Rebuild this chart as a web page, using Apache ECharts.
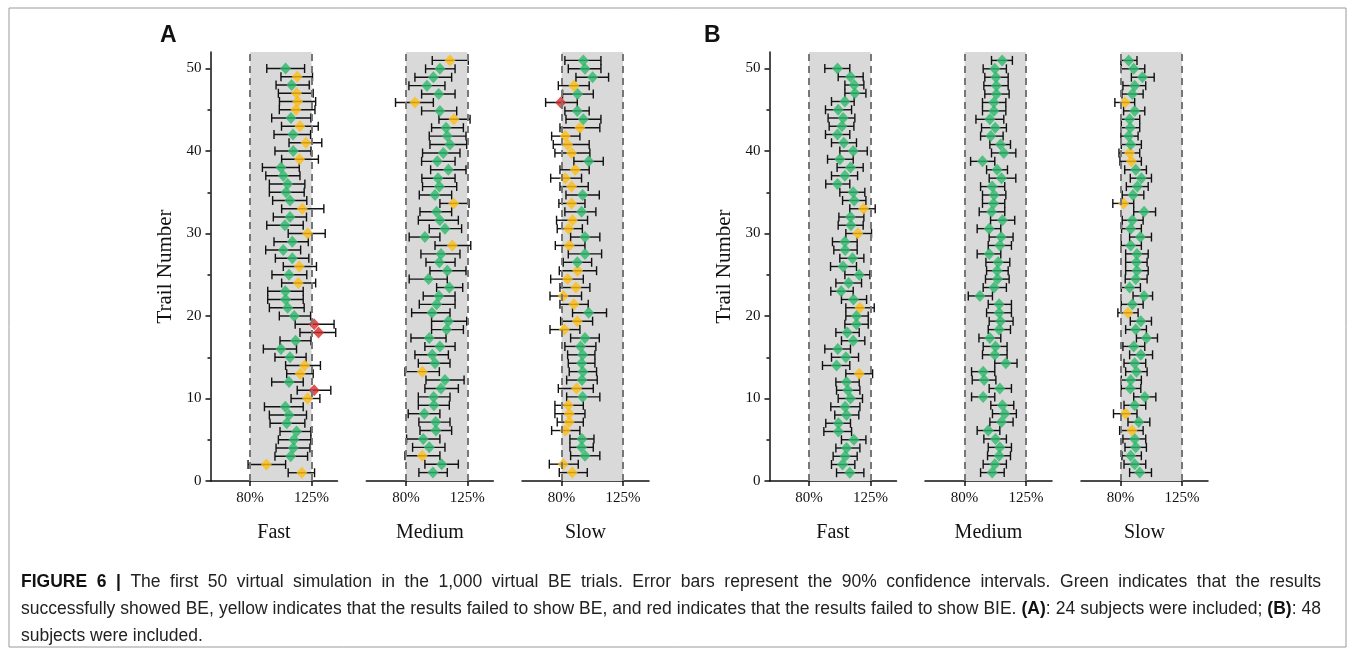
<!DOCTYPE html>
<html>
<head>
<meta charset="utf-8">
<script src="https://cdn.jsdelivr.net/npm/echarts/dist/echarts.min.js"></script>
<style>
  html, body { margin: 0; padding: 0; background: #fff; }
  #chart { width: 1355px; height: 654px; }
</style>
</head>
<body>
<div id="chart"></div>
<script>
// trial numbers (y axis categories)
const trials = Array.from({ length: 50 }, (_, i) => i + 1)

// A: 24 subjects -- point estimate, 90% CI low, 90% CI high (%), trial 1..50
const aFastEst = [117.9, 91.9, 109.7, 111.6, 112.1, 114.0, 106.8, 108.5, 105.8, 122.1, 126.9, 108.5, 116.7, 119.9, 109.2, 102.6, 113.3, 130.1, 126.9, 112.3, 107.5, 106.0, 105.8, 115.3, 108.5, 116.0, 110.9, 104.3, 110.9, 122.1, 105.5, 109.2, 118.2, 109.2, 106.3, 107.5, 104.3, 102.6, 116.2, 111.6, 120.9, 111.4, 116.5, 109.9, 113.6, 114.8, 114.0, 110.4, 114.5, 106.0]
const aFastLow = [107.9, 78.5, 98.2, 99.0, 100.7, 101.9, 94.6, 94.1, 90.5, 110.0, 114.5, 95.8, 106.8, 106.0, 98.2, 89.7, 101.9, 116.5, 113.0, 101.4, 94.1, 92.9, 92.9, 103.1, 96.0, 104.3, 98.5, 91.4, 97.5, 107.9, 92.2, 97.0, 103.1, 96.5, 94.1, 94.1, 91.5, 89.0, 103.1, 98.2, 108.5, 97.5, 103.0, 95.8, 101.4, 101.5, 100.7, 99.0, 102.6, 92.2]
const aFastHigh = [127.2, 106.0, 122.1, 123.8, 124.5, 124.5, 120.1, 121.3, 118.9, 131.1, 139.1, 118.9, 126.2, 131.5, 121.0, 114.0, 124.6, 142.7, 141.5, 124.3, 119.6, 118.9, 118.9, 128.0, 121.5, 128.6, 123.0, 117.0, 122.6, 135.0, 118.9, 121.3, 134.0, 121.5, 119.6, 120.1, 116.5, 116.0, 130.0, 124.6, 132.5, 124.3, 129.9, 124.5, 127.5, 128.0, 126.2, 123.3, 125.7, 119.9]

const aMedEst = [99.8, 106.2, 92.0, 97.1, 92.7, 102.0, 101.8, 93.5, 100.5, 100.3, 105.7, 108.6, 92.0, 101.3, 99.3, 104.9, 97.1, 109.8, 111.1, 99.1, 102.5, 104.2, 111.8, 96.6, 110.3, 104.5, 105.7, 114.0, 93.9, 108.6, 104.9, 102.5, 115.0, 101.3, 104.5, 103.5, 111.1, 103.0, 107.4, 112.3, 110.3, 109.4, 115.2, 104.9, 86.6, 104.0, 95.4, 100.1, 104.9, 112.3]
const aMedLow = [89.5, 93.9, 79.3, 84.9, 80.5, 90.3, 89.5, 81.7, 89.1, 89.1, 93.9, 94.7, 79.3, 89.1, 86.6, 93.9, 83.7, 98.8, 98.8, 84.2, 89.8, 92.7, 102.5, 82.4, 97.6, 94.7, 91.0, 101.3, 82.4, 97.1, 89.1, 90.3, 104.9, 89.8, 92.2, 91.7, 98.1, 91.5, 92.2, 97.6, 97.1, 98.8, 104.2, 91.5, 72.4, 91.5, 82.2, 86.6, 94.4, 99.3]
const aMedHigh = [110.3, 118.4, 104.9, 108.6, 104.9, 113.5, 112.3, 104.9, 111.8, 112.3, 118.4, 122.6, 104.5, 112.3, 111.1, 116.0, 109.4, 122.1, 124.5, 112.3, 116.0, 116.0, 121.6, 110.3, 124.0, 116.0, 119.6, 127.5, 104.9, 120.8, 118.4, 113.5, 126.2, 113.5, 117.2, 116.0, 124.0, 116.0, 119.6, 124.5, 124.0, 122.1, 127.0, 117.2, 100.1, 116.0, 108.6, 113.5, 116.0, 125.7]

const aSlowEst = [87.8, 81.2, 97.1, 94.6, 94.9, 82.7, 85.6, 85.6, 84.9, 95.4, 91.0, 94.9, 95.6, 94.6, 95.4, 93.9, 97.1, 82.0, 91.5, 99.8, 89.0, 81.2, 90.5, 84.4, 91.7, 91.5, 97.1, 85.6, 97.1, 85.1, 88.0, 94.6, 87.3, 95.4, 87.3, 82.7, 90.0, 99.8, 87.3, 84.4, 82.7, 93.4, 95.9, 91.5, 79.3, 91.7, 89.0, 102.7, 97.1, 95.9]
const aSlowLow = [78.3, 71.0, 86.6, 86.1, 86.1, 72.7, 76.8, 75.1, 75.1, 83.7, 77.6, 83.7, 85.6, 84.9, 84.4, 82.4, 86.6, 71.5, 79.3, 88.0, 78.8, 71.5, 78.8, 72.0, 78.3, 81.2, 84.9, 75.4, 86.6, 76.8, 76.3, 82.4, 78.0, 83.2, 78.8, 72.0, 78.8, 89.0, 75.1, 73.9, 72.7, 78.8, 83.2, 82.4, 68.3, 80.7, 77.6, 90.5, 84.9, 82.4]
const aSlowHigh = [98.8, 92.2, 108.0, 103.2, 103.7, 93.4, 95.9, 97.1, 95.9, 108.0, 103.2, 106.1, 105.6, 104.4, 104.4, 105.1, 107.6, 93.4, 102.7, 112.9, 99.5, 94.6, 100.7, 95.9, 105.6, 102.0, 109.3, 97.1, 108.0, 95.2, 99.0, 105.1, 97.1, 107.6, 99.5, 94.6, 100.2, 110.5, 100.7, 100.2, 93.4, 108.0, 108.8, 100.2, 91.5, 103.2, 100.2, 114.4, 108.8, 108.8]

// B: 48 subjects
const bFastEst = [109.8, 104.5, 106.4, 107.4, 112.8, 101.5, 101.5, 107.4, 106.4, 110.3, 108.4, 107.4, 116.7, 100.1, 106.9, 101.0, 112.3, 107.9, 114.7, 114.7, 117.2, 112.5, 103.5, 108.9, 116.7, 104.9, 111.8, 106.4, 106.2, 115.7, 110.6, 110.3, 119.9, 113.0, 112.3, 100.8, 106.2, 110.3, 102.5, 112.3, 105.4, 100.8, 104.0, 104.9, 101.3, 106.2, 113.5, 113.0, 110.3, 100.8]
const bFastLow = [100.1, 96.4, 97.6, 99.6, 103.7, 90.8, 92.2, 98.8, 95.9, 101.3, 100.1, 99.6, 106.9, 89.8, 96.4, 91.5, 103.7, 99.6, 106.2, 106.9, 106.9, 103.7, 95.9, 99.6, 106.2, 95.7, 102.5, 98.1, 97.1, 106.9, 101.3, 101.8, 109.8, 104.5, 102.5, 92.2, 96.4, 100.5, 93.5, 102.5, 96.4, 92.0, 94.7, 93.9, 92.0, 96.4, 106.2, 106.2, 101.3, 91.5]
const bFastHigh = [120.1, 113.5, 115.2, 117.2, 121.6, 111.1, 110.3, 116.4, 117.2, 119.1, 117.2, 116.7, 126.5, 109.8, 116.2, 110.3, 120.8, 116.7, 123.3, 123.3, 127.7, 122.1, 112.3, 118.4, 124.5, 114.7, 120.1, 115.2, 115.2, 125.7, 119.6, 120.1, 128.4, 121.6, 120.8, 109.8, 115.5, 119.6, 112.3, 122.6, 114.7, 109.8, 112.8, 113.5, 111.1, 113.0, 121.6, 120.1, 119.6, 109.8]

const bMedEst = [100.2, 102.1, 105.3, 105.8, 102.6, 97.3, 107.0, 109.4, 107.7, 93.6, 105.8, 94.3, 93.6, 110.2, 102.1, 102.6, 98.5, 105.3, 106.3, 105.3, 105.3, 91.2, 101.6, 104.1, 103.8, 104.6, 98.0, 105.8, 106.8, 98.0, 107.7, 99.7, 101.2, 101.6, 100.2, 107.0, 103.8, 93.1, 108.7, 106.3, 99.2, 102.4, 98.5, 101.4, 101.4, 103.3, 103.3, 102.9, 102.1, 107.5]
const bMedLow = [91.7, 93.6, 96.8, 97.3, 94.1, 89.2, 98.5, 100.4, 99.2, 85.1, 98.0, 85.6, 85.1, 102.1, 93.1, 93.6, 90.5, 97.3, 98.0, 96.1, 97.3, 82.7, 93.6, 95.3, 96.1, 95.6, 89.2, 97.3, 98.0, 89.2, 99.0, 90.7, 93.1, 93.1, 91.7, 98.0, 96.1, 84.4, 99.7, 98.5, 91.7, 92.4, 88.3, 93.1, 93.1, 94.8, 94.1, 94.8, 93.6, 99.7]
const bMedHigh = [109.0, 110.6, 113.6, 114.3, 110.6, 105.8, 115.5, 117.9, 116.0, 102.1, 114.3, 102.9, 102.1, 118.4, 111.1, 111.1, 106.5, 113.6, 115.5, 114.3, 114.3, 100.4, 110.6, 112.6, 111.9, 113.1, 106.5, 114.3, 115.5, 106.5, 116.7, 109.4, 109.4, 110.2, 109.4, 117.5, 111.4, 102.1, 117.5, 113.6, 108.2, 110.6, 108.7, 110.2, 110.2, 112.6, 111.9, 111.9, 110.6, 115.0]

const bSlowEst = [94.0, 90.3, 87.4, 91.1, 90.3, 88.4, 93.3, 83.7, 90.3, 97.7, 87.1, 87.4, 91.6, 90.3, 94.8, 89.6, 98.9, 91.1, 94.8, 85.4, 88.6, 97.2, 86.6, 91.1, 92.0, 91.6, 92.0, 87.4, 94.5, 87.4, 88.6, 97.2, 82.2, 89.1, 92.3, 95.2, 91.1, 87.9, 86.6, 87.4, 85.9, 87.1, 86.6, 90.3, 83.2, 88.6, 90.3, 96.0, 89.6, 85.9]
const bSlowLow = [86.6, 82.5, 81.0, 83.2, 81.7, 79.3, 85.4, 74.8, 82.5, 89.6, 80.5, 80.5, 83.7, 82.5, 86.6, 81.7, 91.6, 83.7, 87.1, 78.0, 80.5, 89.1, 80.5, 83.4, 83.7, 83.7, 83.7, 80.5, 86.6, 80.7, 81.2, 89.6, 74.3, 81.2, 84.2, 87.1, 83.0, 79.5, 78.8, 80.5, 80.2, 80.5, 80.5, 82.2, 75.8, 81.0, 81.7, 87.9, 80.5, 80.2]
const bSlowHigh = [102.6, 98.4, 95.2, 98.9, 98.4, 96.5, 101.4, 92.0, 98.4, 105.8, 94.8, 95.2, 99.4, 98.4, 103.4, 97.7, 107.0, 98.9, 102.6, 92.8, 96.5, 103.4, 94.5, 99.4, 100.2, 99.4, 100.2, 95.2, 102.6, 95.2, 96.5, 105.6, 89.6, 97.0, 100.2, 102.6, 98.9, 95.2, 94.0, 95.2, 92.8, 94.0, 94.0, 97.7, 90.3, 96.5, 98.4, 104.6, 97.7, 92.0]

// BE limits and axis ticks
const beLimits = [80, 125]
const xTickLabels = ['80%', '125%']
const yTickValues = [0, 10, 20, 30, 40, 50]
const yMinorTickValues = [5, 15, 25, 35, 45]

// caption, {b|...} is bold; first two lines are justified
const captionLines = [
  '{b|FIGURE} {b|6} {b|\u007c} The first 50 virtual simulation in the 1,000 virtual BE trials. Error bars represent the 90% confidence intervals. Green indicates that the results',
  'successfully showed BE, yellow indicates that the results failed to show BE, and red indicates that the results failed to show BIE. {b|(A)}: 24 subjects were included; {b|(B)}: 48',
  'subjects were included.',
]

const GREEN = '#2db86b'
const YELLOW = '#fdbd10'
const RED = '#d42c2a'
const SERIF = '"Liberation Serif", "Times New Roman", serif'
const SANS = '"Liberation Sans", Arial, sans-serif'
const CAPTION_SIZE = 17.5

// green: CI inside 80-125; red: point estimate outside; yellow: CI crosses a limit
function statusColor (est, low, high) {
  if (est < beLimits[0] || est > beLimits[1]) return RED
  if (low < beLimits[0] || high > beLimits[1]) return YELLOW
  return GREEN
}

const panels = [
  { name: 'Fast', left: 210.5, yMax: 52, axis: true, est: aFastEst, low: aFastLow, high: aFastHigh },
  { name: 'Medium', left: 366.3, yMax: 51, axis: false, est: aMedEst, low: aMedLow, high: aMedHigh },
  { name: 'Slow', left: 522, yMax: 51, axis: false, est: aSlowEst, low: aSlowLow, high: aSlowHigh },
  { name: 'Fast', left: 769.5, yMax: 52, axis: true, est: bFastEst, low: bFastLow, high: bFastHigh },
  { name: 'Medium', left: 925, yMax: 51, axis: false, est: bMedEst, low: bMedLow, high: bMedHigh },
  { name: 'Slow', left: 1081, yMax: 51, axis: false, est: bSlowEst, low: bSlowLow, high: bSlowHigh },
]

const barStyle = { stroke: '#111', lineWidth: 1.4 }

function renderBar (params, api) {
  const y = api.value(0)
  const lo = api.coord([api.value(1), y])
  const hi = api.coord([api.value(2), y])
  const h = 4.5

  return {
    type: 'group',
    children: [
      { type: 'line', shape: { x1: lo[0], y1: lo[1], x2: hi[0], y2: hi[1] }, style: barStyle },
      { type: 'line', shape: { x1: lo[0], y1: lo[1] - h, x2: lo[0], y2: lo[1] + h }, style: barStyle },
      { type: 'line', shape: { x1: hi[0], y1: hi[1] - h, x2: hi[0], y2: hi[1] + h }, style: barStyle },
    ],
  }
}

// lay caption words out so that a line fills the given width
const measureCtx = document.createElement('canvas').getContext('2d')
function wordWidth (word) {
  let w = 0
  word.replace(/\{b\|([^}]*)\}|([^{]+)/g, (m, bold, plain) => {
    measureCtx.font = (bold !== undefined ? 'bold ' : '') + CAPTION_SIZE + 'px ' + SANS
    w += measureCtx.measureText(bold !== undefined ? bold : plain).width
    return m
  })
  return w
}

function captionGraphics (x, y, width, lineHeight) {
  const out = []
  captionLines.forEach((line, li) => {
    const words = line.split(' ')
    const widths = words.map(wordWidth)
    const total = widths.reduce((a, b) => a + b, 0)
    const justify = li < captionLines.length - 1
    const gap = justify ? (width - total) / (words.length - 1) : wordWidth(' ') || CAPTION_SIZE * 0.28
    let cx = x
    words.forEach((word, wi) => {
      out.push({
        type: 'text',
        x: cx,
        y: y + li * lineHeight,
        style: {
          text: word,
          fontSize: CAPTION_SIZE,
          fontFamily: SANS,
          fill: '#222',
          textVerticalAlign: 'middle',
          rich: { b: { fontWeight: 'bold', fontSize: CAPTION_SIZE, fontFamily: SANS, fill: '#111' } },
        },
      })
      cx += widths[wi] + gap
    })
  })
  return out
}

const grid = []
const xAxis = []
const yAxis = []
const series = []

panels.forEach((p, i) => {
  grid.push({ left: p.left, top: 52, width: 127, height: 429 })
  xAxis.push({
    gridIndex: i,
    type: 'value',
    min: 51,
    max: 144,
    name: p.name,
    nameLocation: 'middle',
    nameGap: 42,
    nameTextStyle: { fontFamily: SERIF, fontSize: 20, color: '#111' },
    axisLine: { lineStyle: { color: '#111', width: 1.5 } },
    axisTick: { customValues: beLimits, length: 5, lineStyle: { color: '#111', width: 1.5 } },
    axisLabel: {
      customValues: beLimits,
      formatter: v => xTickLabels[beLimits.indexOf(v)],
      fontFamily: SERIF,
      fontSize: 15,
      color: '#111',
      margin: 10,
    },
    splitLine: { show: false },
  })

  const yIndex = yAxis.length
  yAxis.push({
    gridIndex: i,
    type: 'value',
    position: 'left',
    min: 0,
    max: p.yMax,
    show: p.axis,
    name: p.axis ? 'Trail Number' : '',
    nameLocation: 'middle',
    nameGap: 35,
    nameTextStyle: { fontFamily: SERIF, fontSize: 21, color: '#111' },
    axisLine: { show: true, lineStyle: { color: '#111', width: 1.5 } },
    axisTick: { customValues: yTickValues, length: 5, lineStyle: { color: '#111', width: 1.5 } },
    axisLabel: { customValues: yTickValues, fontFamily: SERIF, fontSize: 15, color: '#111', margin: 9 },
    splitLine: { show: false },
  })
  if (p.axis) {
    // shorter minor ticks at 5, 15, ...
    yAxis.push({
      gridIndex: i,
      type: 'value',
      position: 'left',
      min: 0,
      max: p.yMax,
      axisLine: { show: false },
      axisTick: { customValues: yMinorTickValues, length: 3, lineStyle: { color: '#111', width: 1.5 } },
      axisLabel: { show: false },
      splitLine: { show: false },
    })
  }

  series.push({
    type: 'custom',
    xAxisIndex: i,
    yAxisIndex: yIndex,
    z: 3,
    renderItem: renderBar,
    encode: { x: [1, 2], y: 0 },
    data: trials.map((t, k) => [t, p.low[k], p.high[k]]),
    markArea: {
      silent: true,
      itemStyle: { color: '#d9d9d9' },
      data: [[{ xAxis: beLimits[0] }, { xAxis: beLimits[1] }]],
    },
    markLine: {
      silent: true,
      symbol: 'none',
      label: { show: false },
      lineStyle: { color: '#777', type: [7, 5], width: 2 },
      data: beLimits.map(v => ({ xAxis: v })),
    },
  })
  series.push({
    type: 'scatter',
    xAxisIndex: i,
    yAxisIndex: yIndex,
    z: 4,
    symbol: 'diamond',
    symbolSize: [11, 12],
    data: trials.map((t, k) => ({
      value: [p.est[k], t],
      itemStyle: { color: statusColor(p.est[k], p.low[k], p.high[k]) },
    })),
  })
})

const chart = echarts.init(document.getElementById('chart'))
chart.setOption({
  animation: false,
  grid,
  xAxis,
  yAxis,
  series,
  graphic: [
    { type: 'rect', shape: { x: 9, y: 8, width: 1337, height: 639 }, style: { fill: 'none', stroke: '#9a9a9a', lineWidth: 1 } },
    { type: 'text', left: 160, top: 24, style: { text: 'A', font: 'bold 23px ' + SANS, fill: '#111' } },
    { type: 'text', left: 704, top: 24, style: { text: 'B', font: 'bold 23px ' + SANS, fill: '#111' } },
    ...captionGraphics(21, 582, 1300, 27),
  ],
})
</script>
</body>
</html>
